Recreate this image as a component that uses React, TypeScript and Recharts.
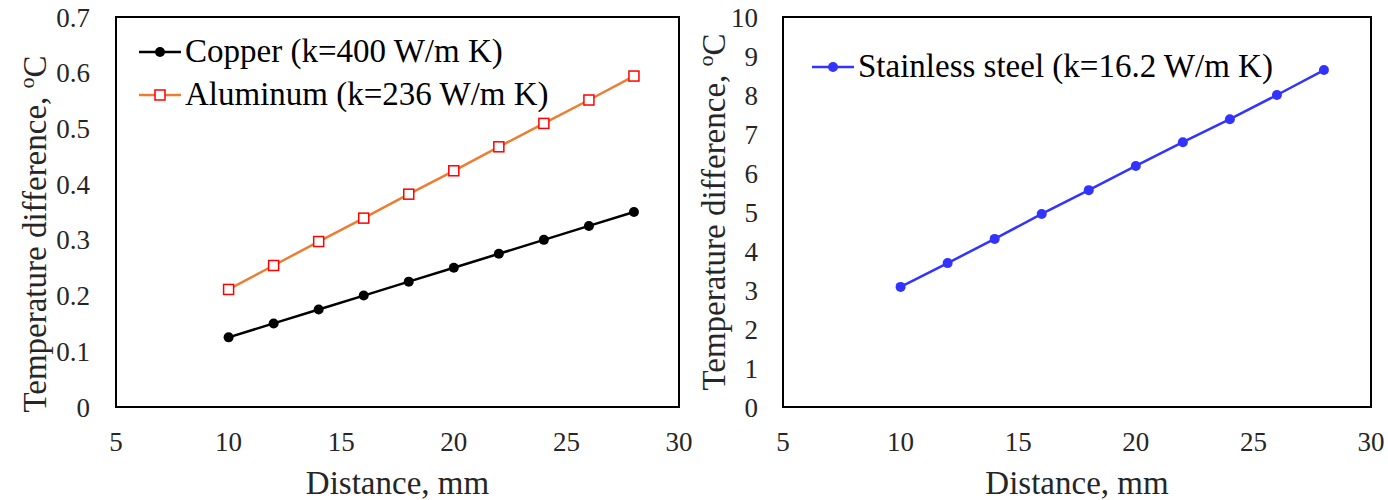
import React from 'react';
import {
  Label,
  Legend,
  Line,
  LineChart,
  ReferenceArea,
  XAxis,
  YAxis,
} from 'recharts';

const distance = [10, 12, 14, 16, 18, 20, 22, 24, 26, 28];
const copper = [0.125, 0.15, 0.175, 0.2, 0.225, 0.25, 0.275, 0.3, 0.325, 0.35];
const aluminum = [0.211, 0.254, 0.297, 0.339, 0.382, 0.424, 0.467, 0.509, 0.551, 0.594];
const stainless = [3.08, 3.69, 4.31, 4.95, 5.56, 6.18, 6.79, 7.38, 8.0, 8.64];

const xTicks = [5, 10, 15, 20, 25, 30];
const leftYTicks = [0, 0.1, 0.2, 0.3, 0.4, 0.5, 0.6, 0.7];
const rightYTicks = [0, 1, 2, 3, 4, 5, 6, 7, 8, 9, 10];

const FONT = '"Liberation Serif", "Times New Roman", serif';
const TEXT = '#262626';
const ORANGE = '#ED7D31';
const RED = '#FF0000';
const BLUE = '#3333FF';

const leftData = distance.map((d, i) => ({ d, copper: copper[i], aluminum: aluminum[i] }));
const rightData = distance.map((d, i) => ({ d, stainless: stainless[i] }));

function SquareDot(props: any) {
  const { cx, cy } = props;
  if (cx == null || cy == null) return null;
  return <rect x={cx - 5} y={cy - 5} width={10} height={10} fill="#fff" stroke={RED} strokeWidth={1.5} />;
}

type LegendItem = { label: string; line: string; marker: 'dot' | 'square'; fill: string };

function LegendBox({ items }: { items: LegendItem[] }) {
  return (
    <div style={{ fontFamily: FONT, fontSize: 33, color: '#000', whiteSpace: 'nowrap' }}>
      {items.map((it) => (
        <div key={it.label} style={{ display: 'flex', alignItems: 'center', height: 43 }}>
          <svg width={44} height={20} style={{ marginRight: 2 }}>
            <line x1={0} y1={10} x2={42} y2={10} stroke={it.line} strokeWidth={2.5} />
            {it.marker === 'dot' ? (
              <circle cx={21} cy={10} r={5} fill={it.fill} />
            ) : (
              <rect x={16} y={5} width={10} height={10} fill="#fff" stroke={it.fill} strokeWidth={1.5} />
            )}
          </svg>
          <span>{it.label}</span>
        </div>
      ))}
    </div>
  );
}

function yTitle(cx: number, cy: number) {
  return () => (
    <text
      x={cx}
      y={cy}
      transform={`rotate(-90 ${cx} ${cy})`}
      textAnchor="middle"
      fontFamily={FONT}
      fontSize={33}
      fill={TEXT}
    >
      Temperature difference,{'  '}
      <tspan fontSize={22} dy={-12}>o</tspan>
      <tspan dy={12}>C</tspan>
    </text>
  );
}

const tickStyle = { fontFamily: FONT, fontSize: 27, fill: TEXT };
const xTitleStyle = { fontFamily: FONT, fontSize: 33, fill: TEXT };

export default function App() {
  return (
    <div style={{ position: 'absolute', left: 0, top: 0, display: 'flex', background: '#fff' }}>
      <LineChart width={694} height={500} data={leftData} margin={{ top: 17, right: 15, left: 0, bottom: 0 }}>
        <XAxis
          dataKey="d"
          type="number"
          domain={[5, 30]}
          ticks={xTicks}
          axisLine={false}
          tickLine={false}
          tickSize={0}
          tickMargin={25}
          height={93}
          tick={tickStyle}
        >
          <Label value="Distance, mm" position="insideBottom" offset={6} style={xTitleStyle} />
        </XAxis>
        <YAxis
          type="number"
          domain={[0, 0.7]}
          ticks={leftYTicks}
          axisLine={false}
          tickLine={false}
          tickSize={0}
          tickMargin={26}
          width={116}
          tick={tickStyle}
        >
          <Label content={yTitle(46, 234)} />
        </YAxis>
        <ReferenceArea x1={5} x2={30} y1={0} y2={0.7} fill="none" stroke="#000" strokeWidth={2} />
        <Legend
          verticalAlign="middle"
          align="center"
          layout="vertical"
          wrapperStyle={{ top: 30, left: 139, width: 'auto' }}
          content={() => (
            <LegendBox
              items={[
                { label: 'Copper (k=400 W/m K)', line: '#000', marker: 'dot', fill: '#000' },
                { label: 'Aluminum (k=236 W/m K)', line: ORANGE, marker: 'square', fill: RED },
              ]}
            />
          )}
        />
        <Line
          dataKey="copper"
          stroke="#000"
          strokeWidth={2.5}
          dot={{ r: 5, fill: '#000', stroke: '#000', strokeWidth: 0 }}
          isAnimationActive={false}
        />
        <Line
          dataKey="aluminum"
          stroke={ORANGE}
          strokeWidth={2.5}
          dot={<SquareDot />}
          isAnimationActive={false}
        />
      </LineChart>
      <LineChart width={694} height={500} data={rightData} margin={{ top: 17, right: 17, left: 0, bottom: 0 }}>
        <XAxis
          dataKey="d"
          type="number"
          domain={[5, 30]}
          ticks={xTicks}
          axisLine={false}
          tickLine={false}
          tickSize={0}
          tickMargin={25}
          height={93}
          tick={tickStyle}
        >
          <Label value="Distance, mm" position="insideBottom" offset={6} style={xTitleStyle} />
        </XAxis>
        <YAxis
          type="number"
          domain={[0, 10]}
          ticks={rightYTicks}
          axisLine={false}
          tickLine={false}
          tickSize={0}
          tickMargin={25}
          width={89}
          tick={tickStyle}
        >
          <Label content={yTitle(31, 212)} />
        </YAxis>
        <ReferenceArea x1={5} x2={30} y1={0} y2={10} fill="none" stroke="#000" strokeWidth={2} />
        <Legend
          verticalAlign="middle"
          align="center"
          layout="vertical"
          wrapperStyle={{ top: 45, left: 118, width: 'auto' }}
          content={() => (
            <LegendBox items={[{ label: 'Stainless steel (k=16.2 W/m K)', line: BLUE, marker: 'dot', fill: BLUE }]} />
          )}
        />
        <Line
          dataKey="stainless"
          stroke={BLUE}
          strokeWidth={2.5}
          dot={{ r: 5, fill: BLUE, stroke: BLUE, strokeWidth: 0 }}
          isAnimationActive={false}
        />
      </LineChart>
    </div>
  );
}
